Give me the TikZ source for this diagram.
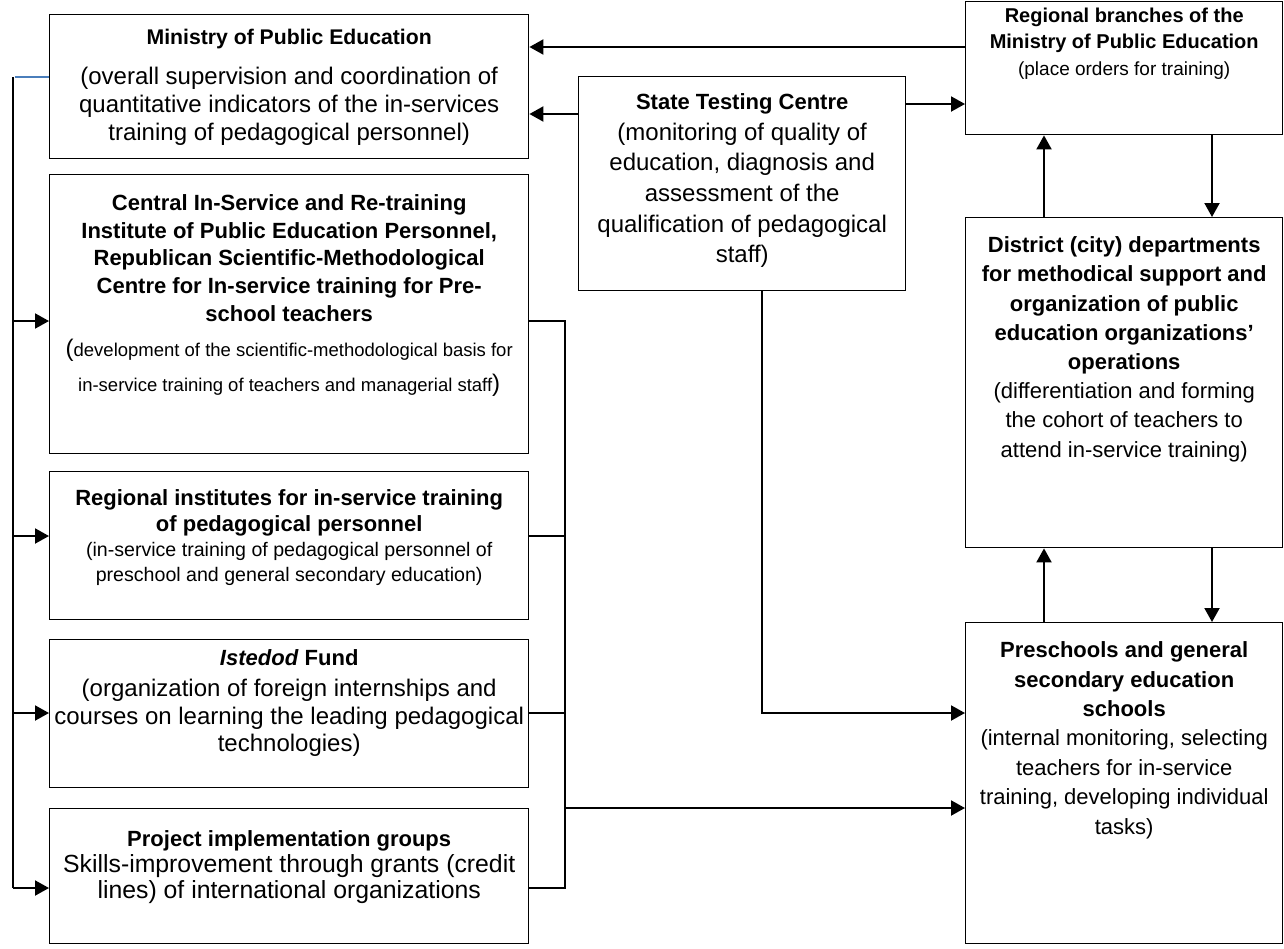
\documentclass[tikz,border=0pt]{standalone}
\usepackage{fontspec}
\setmainfont{Liberation Sans}
\usetikzlibrary{arrows.meta}
\definecolor{lineblue}{HTML}{4A7EBB}
\newcommand{\bxt}[4]{\parbox[c][#2][t]{#1}{\centering\vspace*{#3}#4\par}}
\newcommand{\ttlfont}[1][13.8]{\fontsize{11}{#1}\selectfont\bfseries}
\newcommand{\txtfont}[1][13.8]{\fontsize{12}{#1}\selectfont}
\begin{document}
\begin{tikzpicture}[x=0.5pt,y=-0.5pt,
  box/.style={draw,line width=0.7pt,inner sep=0pt,anchor=north west},
  arr/.style={line width=1pt,-{Triangle[length=7pt,width=7.5pt]}},
  ln/.style={line width=1pt}]
\useasboundingbox (0,0) rectangle (1284,948);
% helper coordinates
\coordinate (h47) at (0,47);
\coordinate (h77) at (0,77);
\coordinate (h104) at (0,104);
\coordinate (h114) at (0,114);
\coordinate (h321) at (0,321);
\coordinate (h536) at (0,536);
\coordinate (h713) at (0,713);
\coordinate (h808) at (0,808);
\coordinate (h888) at (0,888);
\coordinate (v762) at (762,0);
\coordinate (v1044) at (1044,0);
\coordinate (v1212) at (1212,0);
% left column
\node[box] (min) at (49,14) {\bxt{239.5pt}{72pt}{7pt}{{\fontsize{10.6}{13.8}\selectfont\bfseries Ministry of Public Education\par}\vspace{6pt}{\txtfont[14] (overall supervision and coordination of\\ quantitative indicators of the in-services\\ training of pedagogical personnel)\par}}};
\node[box] (cen) at (49,174) {\bxt{239.5pt}{139.5pt}{10pt}{{\ttlfont Central In-Service and Re-training\\ Institute of Public Education Personnel,\\ Republican Scientific-Methodological\\ Centre for In-service training for Pre-\\ school teachers\par}{\fontsize{9.25}{17.5}\selectfont{\fontsize{12}{17.5}\selectfont(}development of the scientific-methodological basis for\\ in-service training of teachers and managerial staff{\fontsize{12}{17.5}\selectfont)}\par}}};
\node[box] (reg) at (49,471) {\bxt{239.5pt}{74pt}{9pt}{{\ttlfont[13] Regional institutes for in-service training\\ of pedagogical personnel\par}{\fontsize{9.8}{12.5}\selectfont (in-service training of pedagogical personnel of\\ preschool and general secondary education)\par}}};
\node[box] (ist) at (49,639) {\bxt{239.5pt}{74pt}{5pt}{{\ttlfont\textit{Istedod} Fund\par}\vspace{2pt}{\txtfont[13.6] (organization of foreign internships and\\ courses on learning the leading pedagogical\\ technologies)\par}}};
\node[box] (pro) at (49,808) {\bxt{239.5pt}{67.5pt}{11pt}{{\ttlfont Project implementation groups\par}{\fontsize{12.4}{13}\selectfont Skills-improvement through grants (credit\\ lines) of international organizations\par}}};
% middle
\node[box] (stc) at (578,76) {\bxt{163.5pt}{107pt}{8.5pt}{{\ttlfont[15.3] State Testing Centre\par}{\txtfont[15.3] (monitoring of quality of\\ education, diagnosis and\\ assessment of the\\ qualification of pedagogical\\ staff)\par}}};
% right column
\node[box] (rbr) at (965,1) {\bxt{158.5pt}{66.5pt}{3pt}{{\fontsize{10}{13.3}\selectfont\bfseries Regional branches of the\\ Ministry of Public Education\par}{\fontsize{9.5}{13.3}\selectfont (place orders for training)\par}}};
\node[box] (dis) at (965,217) {\bxt{158.5pt}{165pt}{9.5pt}{{\ttlfont[14.6] District (city) departments\\ for methodical support and\\ organization of public\\ education organizations’\\ operations\par}{\fontsize{11}{14.6}\selectfont (differentiation and forming\\ the cohort of teachers to\\ attend in-service training)\par}}};
\node[box] (pre) at (965,622) {\bxt{158.5pt}{160.5pt}{9.5pt}{{\ttlfont[14.7] Preschools and general\\ secondary education\\ schools\par}{\fontsize{11}{14.7}\selectfont (internal monitoring, selecting\\ teachers for in-service\\ training, developing individual\\ tasks)\par}}};
% left bus
\coordinate (bluestart) at (15,77);
\coordinate (lbtop) at (12.7,77);
\coordinate (lbbot) at (12.7,888);
\draw[lineblue,line width=0.8pt] (bluestart) -- (min.west |- h77);
\draw[ln] (lbtop) -- (lbbot);
\draw[arr] (lbtop |- h321) -- (cen.west |- h321);
\draw[arr] (lbtop |- h536) -- (reg.west |- h536);
\draw[arr] (lbtop |- h713) -- (ist.west |- h713);
\draw[arr] (lbbot) -- (pro.west |- h888);
% right bus
\coordinate (rbtop) at (565,321);
\coordinate (rbbot) at (565,888);
\draw[ln] (cen.east |- h321) -- (rbtop) -- (rbbot) -- (pro.east |- h888);
\draw[ln] (reg.east |- h536) -- (rbtop |- h536);
\draw[ln] (ist.east |- h713) -- (rbtop |- h713);
\draw[arr] (rbtop |- h808) -- (pre.west |- h808);
% top connectors
\draw[arr] (rbr.west |- h47) -- (min.east |- h47);
\draw[arr] (stc.west |- h114) -- (min.east |- h114);
\draw[arr] (stc.east |- h104) -- (rbr.west |- h104);
\draw[arr] (stc.south -| v762) |- (pre.west |- h713);
% right column arrows
\draw[arr] (dis.north -| v1044) -- (rbr.south -| v1044);
\draw[arr] (rbr.south -| v1212) -- (dis.north -| v1212);
\draw[arr] (pre.north -| v1044) -- (dis.south -| v1044);
\draw[arr] (dis.south -| v1212) -- (pre.north -| v1212);
\end{tikzpicture}
\end{document}
